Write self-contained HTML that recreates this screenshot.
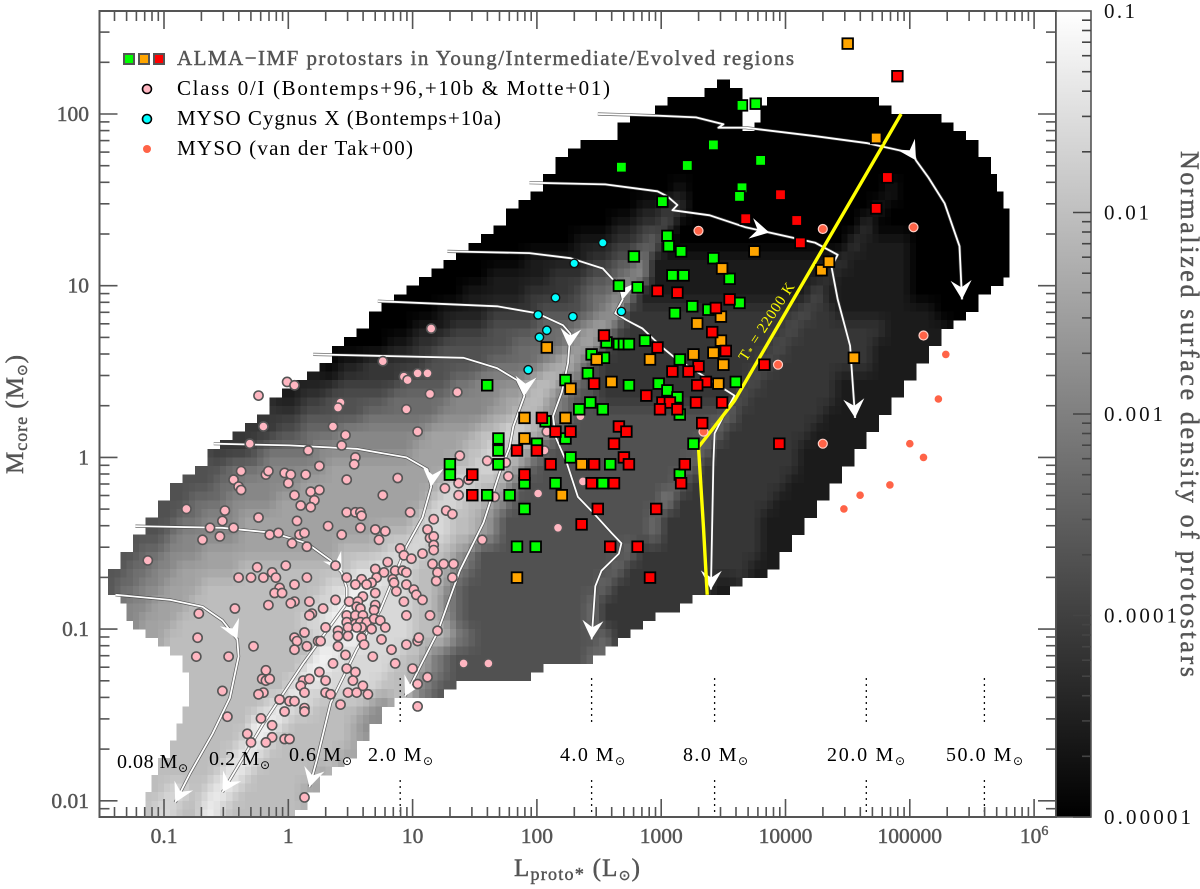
<!DOCTYPE html>
<html lang="en">
<head>
<meta charset="utf-8">
<title>Protostar mass-luminosity diagram</title>
<style>
html,body{margin:0;padding:0;background:#fff;}
svg{display:block;}
text{font-family:"Liberation Serif","DejaVu Serif",serif;}
.sun{font-family:"DejaVu Sans","Liberation Sans",sans-serif;}
.gray{fill:#555;stroke:#555;stroke-width:.45px;}
</style>
</head>
<body>
<svg id="chart" xmlns="http://www.w3.org/2000/svg" width="1200" height="889" viewBox="0 0 1200 889">
<defs>
<clipPath id="plot-clip"><rect x="99.5" y="11" width="956.5" height="806"/></clipPath>
<linearGradient id="bar-gradient" x1="0" y1="0" x2="0" y2="1"><stop offset="0" stop-color="#ffffff"/><stop offset="1" stop-color="#000000"/></linearGradient>
</defs>
<rect width="1200" height="889" fill="#fff"/>
<g id="heatmap" clip-path="url(#plot-clip)" shape-rendering="crispEdges"></g>
<g id="tracks" clip-path="url(#plot-clip)"></g>
<g id="markers"></g>
<g id="guides"></g>
<g id="axes"></g>
<rect x="1056" y="11" width="35" height="806" fill="url(#bar-gradient)"/>
<g id="bar-axis"></g>
<text transform="translate(746,362) rotate(-57)" fill="#ffff00" font-size="15" textLength="90" lengthAdjust="spacing">T<tspan font-size="10" dy="2">*</tspan><tspan dy="-2"> = 22000 K</tspan></text>

<g>
<rect x="124" y="54" width="10" height="10" fill="#00ff00" stroke="#555" stroke-width="2"/>
<rect x="139" y="54" width="10" height="10" fill="#ffa500" stroke="#555" stroke-width="2"/>
<rect x="154" y="54" width="10" height="10" fill="#ff0000" stroke="#555" stroke-width="2"/>
<text class="gray" x="177" y="65" font-size="21" textLength="617" lengthAdjust="spacing">ALMA−IMF protostars in Young/Intermediate/Evolved regions</text>
<circle cx="147" cy="89" r="4.5" fill="#ffb6c1" stroke="#000" stroke-width="1.6"/>
<text x="177" y="95" font-size="21" textLength="433" lengthAdjust="spacing">Class 0/I (Bontemps+96,+10b &amp; Motte+01)</text>
<circle cx="147" cy="119" r="4.5" fill="#00ffff" stroke="#000" stroke-width="1.6"/>
<text x="177" y="125" font-size="21" textLength="324" lengthAdjust="spacing">MYSO Cygnus X (Bontemps+10a)</text>
<circle cx="147" cy="149" r="4" fill="#ff6347"/>
<text x="177" y="155" font-size="21" textLength="236" lengthAdjust="spacing">MYSO (van der Tak+00)</text>
</g>

<g font-size="20">
<text x="117" y="768" textLength="71" lengthAdjust="spacing">0.08 M<tspan class="sun" font-size="12" dy="4">⊙</tspan></text>
<text x="209" y="765" textLength="61" lengthAdjust="spacing">0.2 M<tspan class="sun" font-size="12" dy="4">⊙</tspan></text>
<text x="289" y="761" textLength="63" lengthAdjust="spacing">0.6 M<tspan class="sun" font-size="12" dy="4">⊙</tspan></text>
<text x="368" y="761" textLength="65" lengthAdjust="spacing">2.0 M<tspan class="sun" font-size="12" dy="4">⊙</tspan></text>
<text x="560" y="761" textLength="65" lengthAdjust="spacing">4.0 M<tspan class="sun" font-size="12" dy="4">⊙</tspan></text>
<text x="683" y="761" textLength="65" lengthAdjust="spacing">8.0 M<tspan class="sun" font-size="12" dy="4">⊙</tspan></text>
<text x="827" y="761" textLength="78" lengthAdjust="spacing">20.0 M<tspan class="sun" font-size="12" dy="4">⊙</tspan></text>
<text x="946" y="761" textLength="77" lengthAdjust="spacing">50.0 M<tspan class="sun" font-size="12" dy="4">⊙</tspan></text>
</g>

<text class="gray" x="514" y="876" font-size="25" textLength="126" lengthAdjust="spacing">L<tspan font-size="18" dy="4">proto*</tspan><tspan dy="-4"> (L</tspan><tspan class="sun" font-size="14" dy="4">⊙</tspan><tspan dy="-4">)</tspan></text>
<text class="gray" transform="translate(23,474) rotate(-90)" font-size="25" textLength="119" lengthAdjust="spacing">M<tspan font-size="18" dy="4">core</tspan><tspan dy="-4"> (M</tspan><tspan class="sun" font-size="14" dy="4">⊙</tspan><tspan dy="-4">)</tspan></text>
<text class="gray" transform="translate(1181,151) rotate(90)" font-size="26" textLength="526" lengthAdjust="spacing">Normalized surface density of protostars</text>
</svg>
<script>
const xTickExponents = [-1,0,1,2,3,4,5,6];
const xTickLabels = ["0.1","1","10","100","1000","10000","100000","10"];
const yTickExponents = [2,1,0,-1,-2];
const yTickLabels = ["100","10","1","0.1","0.01"];
const barTickExponents = [-1,-2,-3,-4,-5];
const barTickLabels = ["0.1","0.01","0.001","0.0001","0.00001"];

// Density levels on a 43 x 75 log grid: each row starts at its own first bin, level 0 = 1e-5, each level = 0.42 dex.
const densityFirstBin = [49,45,42,39,37,36,35,33,32,30,28,26,24,22,21,19,18,16,14,13,11,9,8,6,5,4,3,2,1,0,2,2,4,6,7,7,7,6,6,5,4,4,3];
const densityLevels = [
[0,0],
[0,0,0,0,0,0,0,,0,0,0,0,0,0,0,0,0,0],
[0,0,0,0,0,0,0,0,0,,,0,0,0,0,0,0,0,0,0,0,0,0,0,0,0],
[0,,0,0,0,0,0,0,0,0,0,0,0,0,0,0,0,0,0,0,0,0,0,0,0,0,0,0,0,0,0],
[0,0,0,0,0,0,0,0,0,0,0,0,0,0,0,0,0,0,0,0,0,0,0,0,0,0,0,0,0,0,0,0,0,0],
[0,0,0,0,0,0,0,0,0,0,0,0,0,0,0,0,0,0,0,0,0,0,0,0,0,0,0,0,0,0,0,0,0,0,0,0],
[0,0,0,0,0,0,0,0,0,0,0,1,0,0,0,0,0,0,0,0,0,0,0,0,0,0,0,0,1,0,0,0,0,0,0,0,0],
[0,0,0,0,0,0,0,0,0,0,1,1,2,2,0,0,0,0,0,0,0,0,0,0,0,0,0,0,0,1,0,0,0,0,0,0,0,0,0,0],
[0,0,0,0,0,0,0,0,0,1,1,2,2,3,0,0,0,0,0,0,0,0,0,0,0,0,0,0,0,2,0,0,0,0,0,0,0,0,0,0,0],
[0,0,0,0,0,0,0,0,1,1,1,2,2,3,4,0,0,0,0,0,0,0,0,0,0,0,0,0,0,0,2,1,1,1,1,0,0,0,0,0,0,0,0],
[0,0,0,0,0,0,1,1,1,1,1,2,2,3,3,5,1,1,1,1,1,1,1,1,1,1,1,1,1,1,1,2,1,1,1,1,1,0,0,0,0,0,0,0,0],
[0,0,0,0,0,1,1,1,1,1,2,2,2,3,3,4,5,5,1,1,1,1,1,1,1,1,1,1,1,1,1,1,2,1,1,1,1,1,1,0,0,0,0,0,0,0,0],
[0,0,0,0,0,1,1,1,1,1,2,2,2,2,3,4,4,5,5,1,1,1,1,1,1,1,1,1,1,1,1,1,1,3,1,1,1,1,1,1,1,0,0,0,0,0,0],
[0,0,0,0,0,1,1,1,1,2,2,2,2,3,3,3,3,4,5,6,2,2,2,2,2,2,2,2,2,2,2,2,2,2,3,2,2,1,1,1,1,1,1,1,1,0,0,0],
[0,0,0,0,1,1,1,2,2,2,3,3,3,3,4,4,4,5,6,6,3,2,2,2,2,2,2,2,2,2,2,2,2,2,3,2,2,2,2,2,2,2,1,1,1,1,1],
[0,0,0,0,1,1,2,2,3,3,3,3,3,3,4,4,4,4,5,6,6,3,2,2,2,2,2,2,2,2,2,2,2,2,2,3,2,2,2,2,2,2,2,1,1,1,1,1],
[0,1,1,2,2,2,2,2,3,3,3,3,3,4,4,4,4,5,6,7,5,3,2,2,2,2,2,2,2,2,2,2,2,2,2,3,2,2,2,2,2,2,2,2,1,1,1,1],
[1,1,1,2,2,2,2,2,3,3,3,3,4,4,5,5,5,5,6,7,7,5,4,3,2,2,2,2,2,2,2,2,2,2,2,2,3,2,2,2,2,2,2,1,1,1,1,1,1],
[1,1,2,2,3,3,3,3,3,4,4,4,4,4,5,5,5,5,6,6,7,7,5,4,3,3,2,2,2,2,2,2,2,2,2,2,2,3,2,2,2,2,2,2,2,1,1,1,1,1],
[2,2,2,3,3,3,3,3,4,4,4,4,4,4,5,5,5,5,6,6,7,7,6,5,4,3,3,3,3,3,3,3,3,3,3,3,3,4,2,2,2,2,2,2,2,1,1,1,1,1],
[2,2,2,3,3,4,4,4,5,5,5,5,5,5,5,6,6,6,6,7,7,8,8,7,6,4,3,3,3,3,3,3,3,3,3,3,3,3,4,2,2,2,2,2,2,2,1,1,1,1,1],
[2,2,2,3,4,4,4,4,5,5,5,5,5,5,5,5,6,6,6,6,7,7,8,7,7,6,4,3,3,3,3,3,3,3,3,3,3,3,3,4,2,2,2,2,2,2,2,1,1,1,1,1],
[3,3,4,4,4,5,5,5,5,5,6,6,6,6,6,6,6,6,6,6,7,7,8,8,7,6,4,3,3,3,3,3,3,3,3,3,3,3,3,4,2,2,2,2,2,2,2,2,1,1,1,1],
[3,3,3,4,4,5,5,5,5,5,6,6,6,6,6,6,6,6,6,6,6,7,8,8,7,7,6,4,3,3,3,3,3,3,3,3,3,3,3,3,4,2,2,2,2,2,2,2,2,1,1,1,1],
[3,3,4,4,4,5,5,5,5,6,6,6,6,6,6,6,6,6,6,6,6,7,8,8,7,7,6,5,3,3,3,3,3,3,3,3,3,3,3,3,5,2,2,2,2,2,2,2,2,1,1,1,1],
[3,3,4,4,5,5,5,6,6,6,6,6,6,6,6,6,6,6,6,6,6,7,8,8,7,7,6,5,3,3,3,3,3,3,3,3,3,3,3,3,4,2,2,2,2,2,2,2,2,1,1,1,1],
[3,3,4,5,5,5,5,5,6,6,6,6,6,6,6,6,6,6,6,7,7,7,8,8,8,7,7,6,5,3,3,3,3,3,3,3,3,3,3,3,3,4,2,2,2,2,2,2,2,2,1,1,1],
[3,4,4,5,5,5,6,6,6,6,6,6,6,6,6,6,6,7,7,7,7,8,8,8,7,7,6,5,3,3,3,3,3,3,3,3,3,3,3,3,4,2,2,2,2,2,2,2,2,2,2,1,1],
[3,4,4,5,5,6,6,6,6,6,7,7,7,7,7,7,7,7,7,8,8,9,8,8,7,7,7,5,4,3,3,3,3,3,3,3,3,3,3,3,4,2,2,2,2,2,2,2,2,2,2,1,1],
[3,4,4,5,5,6,6,6,7,7,7,7,7,7,7,7,7,7,8,8,9,9,8,8,8,7,7,6,4,3,3,3,3,3,3,3,3,3,3,3,4,2,2,2,2,2,2,2,2,1,1],
[5,5,6,6,6,7,7,7,7,7,7,7,7,7,7,8,8,9,9,8,8,8,8,7,7,5,4,3,3,3,3,3,3,3,3,3,3,4,2,2,2,2,2,2,2],
[5,6,6,6,7,7,7,7,7,7,7,7,7,7,8,8,9,9,9,8,8,8,8,7,7,6,4,3,3,3,3,3,3,3,3,3,3,4,2,2,2,2],
[6,7,7,7,7,7,7,7,7,7,7,7,7,8,8,9,9,8,8,8,8,7,7,7,5,4,3,3,3,3,3,3,3,3,3,3,4,2],
[7,7,7,7,7,7,7,7,7,7,7,9,9,8,8,8,8,8,7,7,5,4,3,3,3,3,3,3,3,3,3,3,3,4],
[7,7,7,7,7,7,7,7,7,9,9,8,8,8,8,8,7,7,6,5,4,3,3,3,3,3,3,3],
[7,7,7,7,7,7,7,7,9,8,8,8,8,8,8,7,7,7,5,4,3],
[7,7,7,7,7,7,8,9,8,8,7,7,7,7,6,5],
[7,7,7,7,7,7,9,9,8,7,7,7,7,7,6,5],
[7,7,7,7,7,8,9,8,7,7,7,7,7,7,6],
[7,7,7,7,7,8,9,8,7,7,7,7,7,7,6],
[7,7,7,7,7,8,9,8,7,7,7,7,7,6],
[7,8,8,7,8,9,8,7,7,7,7,7,6],
[7,8,8,7,7,9,8,7,7,7,7,7,7]
];

const classLogL = [.76,.93,.96,1.04,1.12,1.14,1.36,-.01,.05,-.24,.42,.40,.95,-.20,.36,1.04,.46,-.31,.43,.16,.54,.53,.25,1.38,1.60,-.38,-.18,-.16,-.03,.02,.14,.47,.88,-.44,0,-.40,-.38,.18,.25,.05,.76,.21,.10,.18,1.26,1.37,1.37,1.45,-.82,-.51,.47,.54,.58,.59,.98,-.24,-.53,.07,1.27,1.32,1.17,.32,.58,-.63,-.44,.70,.78,1.12,1.14,1.17,-.69,-.55,-.15,-.08,.09,.13,.43,.73,1.56,.03,.15,1.17,1.17,.90,.93,1.08,.99,-1.13,.80,.38,-.02,-.25,1.16,1.25,1.33,.70,.77,.86,.92,.95,-.13,-.40,-.30,-.20,-.10,.15,.47,.71,.84,1.20,1.32,1.19,.59,.67,.54,.63,.85,.05,.95,-.07,1.01,-.11,-.05,.70,.87,1.03,1.08,.60,.38,.05,.17,.49,.56,.93,-.16,.02,-.43,.28,.70,-.72,.19,.17,.47,.55,.58,.54,.60,.69,.95,1.14,.47,.54,.58,.63,.69,.74,.78,.67,.59,.48,.55,.40,.40,.48,.59,.13,.30,.05,.07,.05,.15,.24,.26,.40,.61,.75,.95,1.04,1.05,1.20,-.73,-.74,-.48,-.28,.46,.68,.83,.36,.86,1.41,1.61,-.18,.47,.54,1.00,.25,-.21,-.18,-.15,.12,.10,.17,.30,.52,.60,1.04,1.12,-.53,-.20,-.24,.13,.30,.34,.48,.55,.64,-.07,.01,.05,.42,1.04,.13,.13,-.03,-.49,-.22,-.13,-.33,-.13,-.03,.01,-.18,-.30,.13,1.15,2.35,2.08,2.06,2.37,2.01,2.17,1.77,1.75,1.66];
const classLogM = [.56,.47,.45,.49,.49,.37,.38,.44,.42,.36,.32,.29,.28,.18,.18,.15,.13,.08,.07,.04,0,-.04,-.05,.01,-.02,-.08,-.10,-.08,-.09,-.10,-.10,-.13,-.12,-.13,-.15,-.17,-.19,-.20,-.19,-.22,-.22,-.25,-.28,-.29,-.18,-.15,-.22,-.13,-.30,-.31,-.32,-.32,-.32,-.34,-.32,-.35,-.37,-.37,-.31,-.33,-.36,-.40,-.41,-.41,-.41,-.42,-.43,-.42,-.47,-.46,-.48,-.46,-.45,-.44,-.45,-.44,-.45,-.48,-.48,-.50,-.52,-.51,-.54,-.53,-.57,-.56,-.59,-.60,-.61,-.63,-.63,-.64,-.62,-.62,-.62,-.65,-.67,-.66,-.66,-.67,-.67,-.70,-.70,-.70,-.70,-.70,-.70,-.70,-.71,-.67,-.70,-.72,-.71,-.73,-.74,-.74,-.73,-.74,-.74,-.76,-.77,-.79,-.79,-.79,-.78,-.80,-.83,-.81,-.83,-.84,-.84,-.84,-.84,-.84,-.86,-.85,-.88,-.88,-.86,-.91,-.91,-.92,-.92,-.87,-.88,-.92,-.92,-.89,-.92,-.92,-.96,-.97,-.96,-.96,-.94,-.95,-.99,-1.00,-.99,-.99,-.99,-1.01,-1.04,-1.04,-1.05,-1.02,-.99,-1.05,-1.07,-1.12,-1.10,-1.07,-1.07,-1.10,-1.09,-1.06,-1.09,-1.07,-1.05,-1.01,-1.05,-1.16,-1.16,-1.10,-1.15,-1.16,-1.12,-1.20,-1.20,-1.20,-1.20,-1.24,-1.23,-1.25,-1.23,-1.25,-1.29,-1.30,-1.29,-1.30,-1.33,-1.29,-1.30,-1.30,-1.33,-1.32,-1.28,-1.36,-1.37,-1.38,-1.37,-1.37,-1.38,-1.37,-1.37,-1.38,-1.41,-1.42,-1.42,-1.44,-1.45,-1.46,-1.48,-1.48,-1.51,-1.52,-1.56,-1.61,-1.63,-1.64,-1.64,-1.66,-1.66,-1.98,.75,.24,.15,.04,-.14,-.21,-.41,-.11,-.03,-.23];

const cygnusLogL = [2.53,2.30,2.15,2.01,2.29,2.08,2.02,1.93,2.68];
const cygnusLogM = [1.25,1.13,.93,.83,.82,.74,.70,.51,.85];

const ringedLogL = [3.30,4.30,5.03,3.94,5.11,4.30,3.34];
const ringedLogM = [1.32,1.33,1.34,.54,.71,.08,.15];

const takLogL = [5.29,5.23,5.00,5.11,4.84,4.60,4.47];
const takLogM = [.60,.34,.08,0,-.16,-.22,-.30];

const youngLogL = [3.05,3.06,3.16,2.78,3.42,3.55,3.09,3.18,2.66,2.81,3.25,3.11,3.38,3.63,2.87,2.56,2.66,2.70,2.74,2.44,2.54,3.15,2.41,3.60,1.60,2.23,2.74,2.98,3.05,3.13,2.43,2.34,2.53,3.26,1.69,1.69,1.69,2.00,2.07,2.23,2.27,1.30,1.30,1.90,2.15,2.59,2.53,3.15,1.60,1.78,1.90,3.15,3.65,3.76,3.42,3.80,3.21,2.68,3.65,3.63,3.01,1.84,1.99];
const youngLogM = [1.29,1.23,1.20,1.17,1.16,1.04,1.06,1.06,1.00,.99,.88,.84,.86,.90,.68,.67,.66,.66,.66,.60,.58,.57,.49,.44,.42,.45,.42,.43,.39,.35,.32,.28,.28,.08,.11,.04,-.04,.08,.21,.11,0,-.04,-.10,-.15,-.15,-.04,-.15,-.10,-.22,-.22,-.30,.25,2.05,2.06,1.82,1.73,1.70,1.69,1.57,1.52,1.49,-.52,-.52];

const intermediateLogL = [3.75,3.49,4.29,4.35,3.48,3.29,3.48,3.42,3.26,2.48,2.91,2.08,3.50,3.46,2.60,2.27,1.90,2.23,1.90,2.36,2.20,4.50,4.73,4.55,1.84];
const intermediateLogM = [1.20,1.10,1.09,1.14,.82,.78,.68,.61,.60,.57,.57,.64,.54,.43,.44,.40,.23,.23,.11,-.04,-.22,2.41,1.86,.58,-.70];

const evolvedLogL = [4.12,2.97,3.13,3.55,3.44,3.41,2.54,2.97,3.52,3.83,3.30,3.09,3.22,3.36,2.46,3.29,2.88,3.28,3.49,3.01,3.07,2.99,3.13,3.33,2.04,2.66,2.72,2.15,2.27,2.62,1.84,2.00,3.95,2.70,2.74,2.11,2.46,3.19,1.48,1.90,2.44,2.62,3.16,1.48,2.49,2.96,2.36,2.59,2.81,2.91,4.90,4.82,4.73,3.96,4.09,3.68];
const evolvedLogM = [1.25,.97,.96,.92,.87,.73,.71,.64,.62,.54,.53,.50,.50,.44,.43,.42,.36,.32,.32,.32,.32,.28,.28,.20,.23,.18,.15,.15,.15,.08,.04,.04,.08,0,-.04,-.04,-.04,-.04,-.10,-.10,-.15,-.15,-.15,-.22,-.30,-.30,-.39,-.52,-.52,-.70,2.22,1.63,1.45,1.53,1.38,1.39];

const track008LogL = [-1.39,-.95,-.69,-.53,-.41,-.40,-.47,-.61,-.79,-.91];
const track008LogM = [-.80,-.83,-.87,-.95,-1.06,-1.16,-1.40,-1.61,-1.84,-2.01];
const track02LogL = [-1.23,-.53,-.12,.15,.34,.43,.47,.47,.12,-.20,-.53];
const track02LogM = [-.40,-.41,-.44,-.50,-.60,-.67,-.76,-.85,-1.20,-1.55,-1.95];
const track06LogL = [-.60,.01,.55,.95,1.12,1.15,1.08,.95,.74,.55,.34,.23,.17];
const track06LogM = [.08,.07,.05,0,-.07,-.17,-.35,-.52,-.89,-1.12,-1.43,-1.76,-1.92];
const track2LogL = [.20,.82,1.41,1.68,1.84,1.90,1.81,1.78,1.70,1.57,1.38,1.20,.94];
const track2LogM = [.60,.59,.58,.52,.45,.36,.18,.06,-.09,-.38,-.66,-1.02,-1.39];
const track4LogL = [.72,1.68,2.00,2.21,2.27,2.26,2.25,2.20,2.13,2.15,2.24,2.33,2.45,2.60,2.68,2.66,2.52,2.47,2.44];
const track4LogM = [.91,.88,.84,.77,.72,.64,.55,.38,.24,.12,-.03,-.23,-.32,-.44,-.50,-.56,-.66,-.75,-1.06];
const track8LogL = [1.28,1.94,2.27,2.53,2.67,2.69,2.63,2.72,2.85,3.01,3.11,3.59,3.50,3.43,3.42,3.40];
const track8LogM = [1.20,1.19,1.16,1.10,.99,.92,.84,.80,.75,.64,.58,.36,.24,.14,-.03,-.77];
const track20LogL = [1.94,2.55,2.97,3.05,3.13,3.09,3.39,3.68,3.87,4.24,4.42,4.37,4.42,4.52,4.56];
const track20LogM = [1.60,1.59,1.55,1.52,1.47,1.44,1.41,1.34,1.31,1.25,1.18,1.11,.92,.65,.23];
const track50LogL = [2.49,2.97,3.28,3.50,3.46,3.68,4.25,4.66,5.03,5.05,5.15,5.28,5.40,5.42];
const track50LogM = [2.00,1.99,1.98,1.94,1.92,1.92,1.87,1.83,1.77,1.73,1.63,1.48,1.23,.92];

const yellowLogL = [3.37,3.34,3.30,3.43,3.59,4.93];
const yellowLogM = [-.80,-.41,.06,.18,.33,2.00];

const guideLogL = [.90,2.44,3.43,4.65,5.60];

const NS = 'http://www.w3.org/2000/svg';
function xAt(logL){ return 288.3 + 124.3 * logL; }
function yAt(logM){ return 457.4 - 171.7 * logM; }
function barY(logD){ return 11 + (-1 - logD) * 201.5; }
function grayFor(level){ const g = Math.round(level * 27); return 'rgb(' + g + ',' + g + ',' + g + ')'; }
function make(tag, parent, attrs){
  const el = document.createElementNS(NS, tag);
  for (const k in attrs) el.setAttribute(k, attrs[k]);
  parent.appendChild(el);
  return el;
}
const heatmap = document.getElementById('heatmap');
const tracksLayer = document.getElementById('tracks');
const markers = document.getElementById('markers');
const guides = document.getElementById('guides');
const axes = document.getElementById('axes');
const barAxis = document.getElementById('bar-axis');

// heatmap: every grid bin is drawn as four half-bins so edges and gradients resolve like the source raster
function levelAt(j, k){
  if (j < 0 || j >= densityLevels.length) return null;
  const v = densityLevels[j][k - densityFirstBin[j]];
  return (v === undefined || v === null) ? null : v;
}
function blendLevels(pairs){
  let sum = 0, weight = 0;
  pairs.forEach(function(p){ if (p[0] !== null){ sum += p[0] * p[1]; weight += p[1]; } });
  return sum / weight;
}
for (let j = 0; j < densityLevels.length; j++){
  for (let k = 0; k < 75; k++){
    const c = levelAt(j, k);
    for (let sy = 0; sy < 2; sy++){
      for (let sx = 0; sx < 2; sx++){
        const dj = sy ? 1 : -1, dk = sx ? 1 : -1;
        const v = levelAt(j + dj, k), h = levelAt(j, k + dk), d = levelAt(j + dj, k + dk);
        const present = c !== null ? !(v === null && h === null) : (v !== null && h !== null);
        if (!present) continue;
        const level = blendLevels([[c, .5], [v, .2], [h, .2], [d, .1]]);
        const x0 = xAt(-1.5 + 0.1 * k + 0.05 * sx), x1 = xAt(-1.5 + 0.1 * k + 0.05 * (sx + 1));
        const y0 = yAt(2.2 - 0.1 * j - 0.05 * sy), y1 = yAt(2.2 - 0.1 * j - 0.05 * (sy + 1));
        const cell = make('rect', heatmap, {x: x0.toFixed(2), y: y0.toFixed(2), width: (x1 - x0 + .4).toFixed(2), height: (y1 - y0 + .4).toFixed(2), fill: grayFor(level)});
        
        
      }
    }
  }
}

// tracks
function arrowHead(tipX, tipY, angle){
  const len = 19, half = 10.5, notch = 12;
  const c = Math.cos(angle), s = Math.sin(angle);
  const pt = function(a, b){ return (tipX + a * c - b * s).toFixed(1) + ',' + (tipY + a * s + b * c).toFixed(1); };
  const head = make('polygon', tracksLayer, {points: [pt(0,0), pt(-len,half), pt(-notch,0), pt(-len,-half)].join(' '), fill: '#fff'});
  
  
}
function drawTrack(logL, logM, midIndex, name){
  const pts = logL.map(function(v, i){ return [xAt(v), yAt(logM[i])]; });
  const str = pts.map(function(p){ return p[0].toFixed(1) + ',' + p[1].toFixed(1); }).join(' ');
  const casing = make('polyline', tracksLayer, {points: str, fill: 'none', stroke: '#444', 'stroke-width': 3.2, 'stroke-linejoin': 'round', 'stroke-opacity': .8});
  
  
  const line = make('polyline', tracksLayer, {points: str, fill: 'none', stroke: '#fff', 'stroke-width': 1.8, 'stroke-linejoin': 'round'});
  
  
  const a = pts[midIndex - 1], b = pts[midIndex + 1], m = pts[midIndex];
  arrowHead(m[0], m[1], Math.atan2(b[1] - a[1], b[0] - a[0]));
  const n = pts.length;
  arrowHead(pts[n-1][0], pts[n-1][1], Math.atan2(pts[n-1][1] - pts[n-2][1], pts[n-1][0] - pts[n-2][0]));
}
drawTrack(track008LogL, track008LogM, 4, 'track-0.08');
drawTrack(track02LogL, track02LogM, 5, 'track-0.2');
drawTrack(track06LogL, track06LogM, 5, 'track-0.6');
drawTrack(track2LogL, track2LogM, 5, 'track-2');
drawTrack(track4LogL, track4LogM, 5, 'track-4');
drawTrack(track8LogL, track8LogM, 5, 'track-8');
drawTrack(track20LogL, track20LogM, 8, 'track-20');
drawTrack(track50LogL, track50LogM, 9, 'track-50');

const yellow = make('polyline', tracksLayer, {points: yellowLogL.map(function(v, i){ return xAt(v).toFixed(1) + ',' + yAt(yellowLogM[i]).toFixed(1); }).join(' '), fill: 'none', stroke: '#ffff00', 'stroke-width': 3.4, 'stroke-linejoin': 'round'});



// markers
classLogL.forEach(function(v, i){
  const c = make('circle', markers, {cx: xAt(v).toFixed(1), cy: yAt(classLogM[i]).toFixed(1), r: 4.6, fill: '#ffb6c1', stroke: '#555', 'stroke-width': 1.6});
  
  
});
cygnusLogL.forEach(function(v, i){
  const c = make('circle', markers, {cx: xAt(v).toFixed(1), cy: yAt(cygnusLogM[i]).toFixed(1), r: 4.2, fill: '#00ffff', stroke: '#111', 'stroke-width': 1.4});
  
  
});
ringedLogL.forEach(function(v, i){
  const c = make('circle', markers, {cx: xAt(v).toFixed(1), cy: yAt(ringedLogM[i]).toFixed(1), r: 4.5, fill: '#ff6347', stroke: '#ffd0c8', 'stroke-width': 1.2});
  
  
});
takLogL.forEach(function(v, i){
  const c = make('circle', markers, {cx: xAt(v).toFixed(1), cy: yAt(takLogM[i]).toFixed(1), r: 3.8, fill: '#ff6347'});
  
  
});
function drawSquares(logL, logM, color, name){
  logL.forEach(function(v, i){
    const s = make('rect', markers, {x: (xAt(v) - 5.3).toFixed(1), y: (yAt(logM[i]) - 5.3).toFixed(1), width: 10.6, height: 10.6, fill: color, stroke: '#000', 'stroke-width': 1.8});
    
    
  });
}
drawSquares(youngLogL, youngLogM, '#00ff00', 'young-protostar-point');
drawSquares(intermediateLogL, intermediateLogM, '#ffa500', 'intermediate-protostar-point');
drawSquares(evolvedLogL, evolvedLogM, '#ff0000', 'evolved-protostar-point');

// dotted mass guides
guideLogL.forEach(function(v){
  const x = xAt(v).toFixed(1);
  const upper = make('line', guides, {x1: x, x2: x, y1: 678, y2: 726, stroke: '#111', 'stroke-width': 1.3, 'stroke-dasharray': '2 4'});
  
  
  const lower = make('line', guides, {x1: x, x2: x, y1: 780, y2: 817, stroke: '#111', 'stroke-width': 1.3, 'stroke-dasharray': '2 4'});
  
  
});

// axes
const L = 99.5, R = 1056, T = 11, B = 817;
const frame = make('rect', axes, {x: L, y: T, width: R - L, height: B - T, fill: 'none', stroke: '#555', 'stroke-width': 2});


function tickLine(parent, x1, y1, x2, y2, name, color){
  const t = make('line', parent, {x1: x1.toFixed(1), y1: y1.toFixed(1), x2: x2.toFixed(1), y2: y2.toFixed(1), stroke: color, 'stroke-width': 1.6});
  
  
}
for (let e = -2; e <= 6; e++){
  for (let m = 1; m <= 9; m++){
    const x = xAt(e + Math.log10(m));
    if (x <= L + 1 || x >= R - 1) continue;
    const len = m === 1 ? 18 : 10;
    tickLine(axes, x, B, x, B - len, 'x-tick-bottom', '#555');
    tickLine(axes, x, T, x, T + len, 'x-tick-top', '#555');
  }
}
for (let e = -3; e <= 2; e++){
  for (let m = 1; m <= 9; m++){
    const y = yAt(e + Math.log10(m));
    if (y <= T + 1 || y >= B - 1) continue;
    const len = m === 1 ? 18 : 10;
    tickLine(axes, L, y, L + len, y, 'y-tick-left', '#555');
    tickLine(axes, R, y, R - len, y, 'y-tick-right', '#555');
  }
}
xTickExponents.forEach(function(e, i){
  const t = make('text', axes, {x: xAt(e), y: 843, 'text-anchor': 'middle', 'font-size': 21.5, class: 'gray'});
  
  
  t.textContent = xTickLabels[i];
  if (e === 6){
    const sup = make('tspan', t, {dy: -8, 'font-size': 14});
    
    
    sup.textContent = '6';
  }
});
yTickExponents.forEach(function(e, i){
  const t = make('text', axes, {x: 89, y: yAt(e) + 7, 'text-anchor': 'end', 'font-size': 21.5, class: 'gray'});
  
  
  t.textContent = yTickLabels[i];
});

// colorbar axis
const barFrame = make('rect', barAxis, {x: 1056, y: 11, width: 35, height: 806, fill: 'none', stroke: '#555', 'stroke-width': 1.6});


barTickExponents.forEach(function(e, i){
  const t = make('text', barAxis, {x: 1104, y: barY(e) + 7, 'font-size': 21, fill: '#111', textLength: barTickLabels[i].length * 14 - 11, lengthAdjust: 'spacing'});
  
  
  t.textContent = barTickLabels[i];
  if (e > -5){
    for (let m = 1; m <= 9; m++){
      const y = barY(e - 1 + Math.log10(m));
      tickLine(barAxis, 1091, y, 1091 - (m === 1 ? 18 : 9), y, 'colorbar-tick', '#444');
    }
  }
});
</script>
</body>
</html>
